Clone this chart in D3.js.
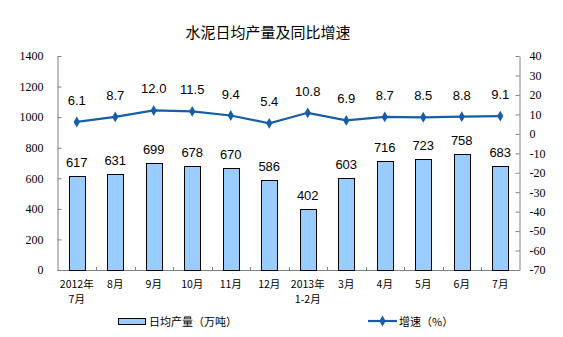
<!DOCTYPE html>
<html>
<head>
<meta charset="utf-8">
<script src="https://cdn.jsdelivr.net/npm/d3@7"></script>
<style>
  html, body { margin: 0; padding: 0; background: #fff; }
  svg { display: block; }
</style>
</head>
<body>
<svg id="chart" width="563" height="337"></svg>
<script>
// Monthly cement output and year-on-year growth
const categories = ["2012年\n7月", "8月", "9月", "10月", "11月", "12月", "2013年\n1-2月", "3月", "4月", "5月", "6月", "7月"];
const dailyOutput = [617, 631, 699, 678, 670, 586, 402, 603, 716, 723, 758, 683];
const growthRate = [6.1, 8.7, 12.0, 11.5, 9.4, 5.4, 10.8, 6.9, 8.7, 8.5, 8.8, 9.1];
const leftTicks = [0, 200, 400, 600, 800, 1000, 1200, 1400];
const rightTicks = [40, 30, 20, 10, 0, -10, -20, -30, -40, -50, -60, -70];

const svg = d3.select("#chart");
const plot = { left: 57.5, right: 519.5, top: 56, bottom: 270 };
const lineColor = "#175EA8";
const axisColor = "#808080";
const cjk = "'Noto Sans CJK SC', sans-serif";
const serif = "'Liberation Serif', 'Times New Roman', serif";

const x = d3.scaleBand().domain(d3.range(categories.length)).range([plot.left, plot.right]).padding(0);
const yLeft = d3.scaleLinear().domain([0, 1400]).range([plot.bottom, plot.top]);
const yRight = d3.scaleLinear().domain([-70, 40]).range([plot.bottom, plot.top]);

// title
svg.append("text")
  .attr("x", 268).attr("y", 38)
  .attr("text-anchor", "middle")
  .attr("font-family", cjk).attr("font-size", 15)
  .attr("fill", "#000")
  .text("水泥日均产量及同比增速");

// left axis with inward ticks
const leftAxis = d3.axisLeft(yLeft).tickValues(leftTicks).tickFormat(d => String(d))
  .tickSizeInner(-4).tickSizeOuter(0).tickPadding(14);
const gL = svg.append("g").attr("transform", `translate(${plot.left},0)`).call(leftAxis)
  .attr("font-family", serif).attr("font-size", 12);
gL.select(".domain").attr("stroke", axisColor);
gL.selectAll(".tick line").attr("stroke", axisColor);
gL.selectAll(".tick text").style("font-family", serif).attr("fill", "#000");

// right axis with inward ticks
const rightAxis = d3.axisRight(yRight).tickValues(rightTicks).tickFormat(d => String(d))
  .tickSizeInner(-4).tickSizeOuter(0).tickPadding(10);
const gR = svg.append("g").attr("transform", `translate(${plot.right},0)`).call(rightAxis)
  .attr("font-family", serif).attr("font-size", 12);
gR.select(".domain").attr("stroke", axisColor);
gR.selectAll(".tick line").attr("stroke", axisColor);
gR.selectAll(".tick text").style("font-family", serif).attr("fill", "#000");

// category axis: boundary ticks pointing up
const gX = svg.append("g");
gX.append("line")
  .attr("x1", plot.left).attr("x2", plot.right)
  .attr("y1", plot.bottom + 0.5).attr("y2", plot.bottom + 0.5)
  .attr("stroke", axisColor);
gX.selectAll("line.btick").data(d3.range(1, categories.length)).join("line")
  .attr("class", "btick")
  .attr("x1", i => Math.round(x(i)) + 0.5).attr("x2", i => Math.round(x(i)) + 0.5)
  .attr("y1", plot.bottom).attr("y2", plot.bottom - 3)
  .attr("stroke", axisColor);
gX.selectAll("text").data(categories).join("text")
  .attr("x", (d, i) => x(i) + x.bandwidth() / 2)
  .attr("y", 288)
  .attr("text-anchor", "middle")
  .attr("font-family", cjk).attr("font-size", 10.5)
  .attr("fill", "#000")
  .each(function (d) {
    const lines = d.split("\n");
    d3.select(this).selectAll("tspan").data(lines).join("tspan")
      .attr("x", d3.select(this).attr("x"))
      .attr("dy", (l, k) => k === 0 ? 0 : 15)
      .text(l => l);
  });

// bars
const barW = 16;
svg.append("g").selectAll("rect").data(dailyOutput).join("rect")
  .attr("x", (d, i) => Math.round(x(i) + x.bandwidth() / 2 - barW / 2) + 0.5)
  .attr("y", d => Math.round(yLeft(d)) + 0.5)
  .attr("width", barW)
  .attr("height", d => plot.bottom - Math.round(yLeft(d)))
  .attr("fill", "#99CCFF")
  .attr("stroke", "#000").attr("stroke-width", 1);

svg.append("g").selectAll("text").data(dailyOutput).join("text")
  .attr("x", (d, i) => x(i) + x.bandwidth() / 2)
  .attr("y", d => yLeft(d) - 9)
  .attr("text-anchor", "middle")
  .attr("font-family", "'Liberation Sans', Arial, sans-serif").attr("font-size", 13)
  .attr("fill", "#000")
  .text(d => d);

// growth line
const line = d3.line().x((d, i) => x(i) + x.bandwidth() / 2).y(d => yRight(d));
svg.append("path").datum(growthRate)
  .attr("d", line).attr("fill", "none")
  .attr("stroke", lineColor).attr("stroke-width", 2.2);

const diamond = d3.symbol().type(d3.symbolDiamond).size(34);
svg.append("g").selectAll("path").data(growthRate).join("path")
  .attr("transform", (d, i) => `translate(${x(i) + x.bandwidth() / 2},${yRight(d)})`)
  .attr("d", diamond).attr("fill", lineColor);

svg.append("g").selectAll("text").data(growthRate).join("text")
  .attr("x", (d, i) => x(i) + x.bandwidth() / 2)
  .attr("y", d => yRight(d) - 17)
  .attr("text-anchor", "middle")
  .attr("font-family", "'Liberation Sans', Arial, sans-serif").attr("font-size", 13)
  .attr("fill", "#000")
  .text(d => d.toFixed(1));

// legend
const lg = svg.append("g");
lg.append("rect").attr("x", 118.5).attr("y", 318.5).attr("width", 27).attr("height", 6)
  .attr("fill", "#99CCFF").attr("stroke", "#000");
lg.append("text").attr("x", 149).attr("y", 326)
  .attr("font-family", cjk).attr("font-size", 11).attr("fill", "#000")
  .text("日均产量（万吨）");
lg.append("line").attr("x1", 368).attr("x2", 397).attr("y1", 321).attr("y2", 321)
  .attr("stroke", lineColor).attr("stroke-width", 2.2);
lg.append("path").attr("transform", "translate(382.5,321)").attr("d", diamond).attr("fill", lineColor);
lg.append("text").attr("x", 399).attr("y", 326)
  .attr("font-family", cjk).attr("font-size", 11).attr("fill", "#000")
  .text("增速（%）");
</script>
</body>
</html>
